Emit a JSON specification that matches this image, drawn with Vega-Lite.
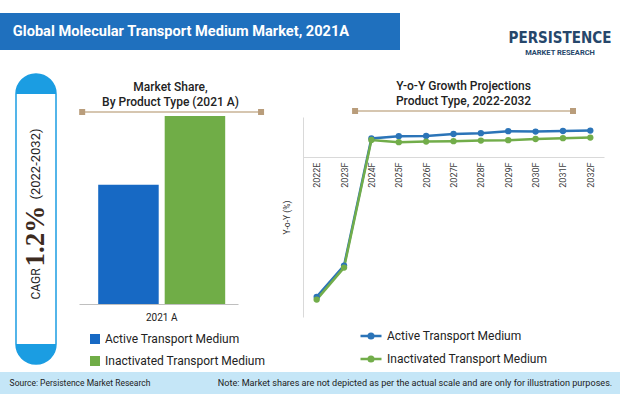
{
  "$schema": "https://vega.github.io/schema/vega-lite/v6.json",
  "padding": 0,
  "background": "white",
  "spacing": 0,
  "config": {
    "font": "Roboto",
    "view": {"stroke": null},
    "axis": {"labelFont": "Roboto", "titleFont": "Roboto"},
    "legend": {"labelFont": "Roboto", "labelLimit": 300}
  },
  "datasets": {
    "share": [
      {"year": "2021 A", "type": "Active Transport Medium", "share": 38.8},
      {"year": "2021 A", "type": "Inactivated Transport Medium", "share": 61.2}
    ],
    "yoy": [
      {"year": "2022E", "type": "Active Transport Medium", "growth": -6.99},
      {"year": "2023F", "type": "Active Transport Medium", "growth": -5.43},
      {"year": "2024F", "type": "Active Transport Medium", "growth": 0.93},
      {"year": "2025F", "type": "Active Transport Medium", "growth": 1.04},
      {"year": "2026F", "type": "Active Transport Medium", "growth": 1.05},
      {"year": "2027F", "type": "Active Transport Medium", "growth": 1.15},
      {"year": "2028F", "type": "Active Transport Medium", "growth": 1.19},
      {"year": "2029F", "type": "Active Transport Medium", "growth": 1.29},
      {"year": "2030F", "type": "Active Transport Medium", "growth": 1.27},
      {"year": "2031F", "type": "Active Transport Medium", "growth": 1.30},
      {"year": "2032F", "type": "Active Transport Medium", "growth": 1.32},
      {"year": "2022E", "type": "Inactivated Transport Medium", "growth": -7.13},
      {"year": "2023F", "type": "Inactivated Transport Medium", "growth": -5.53},
      {"year": "2024F", "type": "Inactivated Transport Medium", "growth": 0.85},
      {"year": "2025F", "type": "Inactivated Transport Medium", "growth": 0.74},
      {"year": "2026F", "type": "Inactivated Transport Medium", "growth": 0.77},
      {"year": "2027F", "type": "Inactivated Transport Medium", "growth": 0.79},
      {"year": "2028F", "type": "Inactivated Transport Medium", "growth": 0.82},
      {"year": "2029F", "type": "Inactivated Transport Medium", "growth": 0.84},
      {"year": "2030F", "type": "Inactivated Transport Medium", "growth": 0.90},
      {"year": "2031F", "type": "Inactivated Transport Medium", "growth": 0.94},
      {"year": "2032F", "type": "Inactivated Transport Medium", "growth": 0.97}
    ]
  },
  "resolve": {"scale": {"color": "independent"}, "legend": {"color": "independent"}},
  "vconcat": [
    {"width": 620, "height": 13, "data": {"values": []}, "mark": "point"},
    {
      "spacing": 0,
      "hconcat": [
        {
          "width": 362, "height": 37,
          "view": {"fill": "#1f70be", "stroke": null},
          "data": {"values": [{"label": "Global Molecular Transport Medium Market, 2021A"}]},
          "mark": {"type": "text", "color": "white", "fontWeight": "bold", "fontSize": 14.6, "font": "Roboto"},
          "encoding": {"text": {"field": "label"}}
        },
        {"width": 38, "height": 37, "view": {"fill": "#1f70be", "stroke": null}, "data": {"values": []}, "mark": "point"},
        {"width": 108, "height": 37, "data": {"values": []}, "mark": "point"},
        {
          "width": 100, "height": 45,
          "layer": [
            {
              "data": {"values": [{"t": "PERSISTENCE"}]},
              "mark": {"type": "text", "fontWeight": "bold", "fontSize": 15, "font": "Liberation Sans Narrow, DejaVu Sans Condensed, Roboto", "color": "#26476b"},
              "encoding": {
                "y": {"field": "t", "type": "nominal", "axis": null, "scale": {"type": "point", "domain": ["PERSISTENCE", "MARKET RESEARCH"], "padding": 1.375, "align": 0.818}},
                "text": {"field": "t"}
              }
            },
            {
              "data": {"values": [{"t": "MARKET RESEARCH"}]},
              "mark": {"type": "text", "fontWeight": "bold", "fontSize": 7.5, "font": "Roboto", "color": "#26476b"},
              "encoding": {
                "y": {"field": "t", "type": "nominal", "axis": null},
                "text": {"field": "t"}
              }
            }
          ]
        }
      ]
    },
    {"width": 620, "height": 15, "data": {"values": []}, "mark": "point"},
    {
      "spacing": 0,
      "resolve": {"scale": {"color": "independent"}, "legend": {"color": "independent"}},
      "hconcat": [
        {"width": 15, "height": 290, "data": {"values": []}, "mark": "point"},
        {
          "width": 40, "height": 290,
          "view": {
            "stroke": "#1b9de2", "strokeWidth": 1.5, "cornerRadius": 20,
            "fill": {
              "gradient": "linear", "x1": 0, "y1": 0, "x2": 0, "y2": 1,
              "stops": [
                {"offset": 0, "color": "#1b9de2"},
                {"offset": 0.069, "color": "#1b9de2"},
                {"offset": 0.0691, "color": "#ffffff"},
                {"offset": 0.931, "color": "#ffffff"},
                {"offset": 0.9311, "color": "#1b9de2"},
                {"offset": 1, "color": "#1b9de2"}
              ]
            }
          },
          "data": {"values": [{"part": "(2022-2032)"}, {"part": "1.2%"}, {"part": "CAGR"}]},
          "layer": [
            {
              "transform": [{"filter": "datum.part === '(2022-2032)'"}],
              "mark": {"type": "text", "angle": 270, "fontSize": 13, "color": "#222222", "dx": 55},
              "encoding": {"text": {"field": "part"}}
            },
            {
              "transform": [{"filter": "datum.part === '1.2%'"}],
              "mark": {"type": "text", "angle": 270, "fontSize": 27, "fontWeight": "bold", "font": "Liberation Serif", "color": "#3d2b1f", "dx": -17},
              "encoding": {"text": {"field": "part"}}
            },
            {
              "transform": [{"filter": "datum.part === 'CAGR'"}],
              "mark": {"type": "text", "angle": 270, "fontSize": 12, "color": "#222222", "dx": -65},
              "encoding": {"text": {"field": "part"}}
            }
          ]
        },
        {"width": 22, "height": 1, "data": {"values": []}, "mark": "point"},
        {
          "spacing": 0,
          "vconcat": [
            {"width": 159, "height": 7, "data": {"values": []}, "mark": "point"},
            {
              "width": 159, "height": 188,
              "title": {"text": ["Market Share,", "By Product Type (2021 A)"], "fontSize": 12, "fontWeight": 500, "color": "#222222", "lineHeight": 15, "offset": 0, "dx": 12, "frame": "group", "anchor": "middle"},
              "layer": [
                {
                  "data": {"name": "share"},
                  "mark": {"type": "bar"},
                  "encoding": {
                    "x": {"field": "year", "type": "nominal", "scale": {"paddingInner": 0, "paddingOuter": 0.126, "align": 0.6},
                      "axis": {"title": null, "labelAngle": 0, "ticks": false, "domainColor": "#bfbfbf", "labelFontSize": 10, "labelColor": "#222222", "labelPadding": 8}},
                    "xOffset": {"field": "type", "type": "nominal", "scale": {"paddingInner": 0.09, "paddingOuter": 0}},
                    "y": {"field": "share", "type": "quantitative", "scale": {"domain": [0, 61.2], "nice": false}, "axis": null},
                    "color": {"field": "type", "type": "nominal",
                      "scale": {"domain": ["Active Transport Medium", "Inactivated Transport Medium"], "range": ["#1769c4", "#70ad47"]},
                      "legend": {"orient": "none", "legendX": 10, "legendY": 259, "direction": "vertical", "title": null, "symbolType": "square", "symbolSize": 100, "symbolStrokeWidth": 0, "labelFontSize": 12, "labelColor": "#222222", "rowPadding": 10, "labelOffset": 4}}
                  }
                },
                {
                  "data": {"values": [{}]},
                  "mark": {"type": "rule", "color": "#c9b396", "strokeWidth": 1.5},
                  "encoding": {
                    "x": {"datum": 0.02, "type": "quantitative", "scale": {"domain": [0, 1], "nice": false, "zero": false}, "axis": null},
                    "x2": {"datum": 1.145},
                    "y": {"datum": 62.5, "type": "quantitative"}
                  }
                },
                {
                  "data": {"values": [{}]},
                  "mark": {"type": "point", "shape": "square", "filled": true, "size": 36, "color": "#b99d7b", "opacity": 1},
                  "encoding": {
                    "x": {"datum": 0.02, "type": "quantitative", "scale": {"domain": [0, 1], "nice": false, "zero": false}, "axis": null},
                    "y": {"datum": 62.5, "type": "quantitative"}
                  }
                },
                {
                  "data": {"values": [{}]},
                  "mark": {"type": "point", "shape": "square", "filled": true, "size": 36, "color": "#b99d7b", "opacity": 1},
                  "encoding": {
                    "x": {"datum": 1.145, "type": "quantitative", "scale": {"domain": [0, 1], "nice": false, "zero": false}, "axis": null},
                    "y": {"datum": 62.5, "type": "quantitative"}
                  }
                }
              ],
              "resolve": {"scale": {"x": "independent"}}
            }
          ]
        },
        {"width": 16, "height": 1, "data": {"values": []}, "mark": "point"},
        {
          "spacing": 0,
          "vconcat": [
            {"width": 301, "height": 5, "data": {"values": []}, "mark": "point"},
            {
              "width": 301, "height": 200,
              "title": {"text": ["Y-o-Y Growth Projections", "Product Type, 2022-2032"], "fontSize": 12, "fontWeight": 500, "color": "#222222", "lineHeight": 15, "offset": 0, "dx": 10, "frame": "group", "anchor": "middle"},
              "layer": [
                {
                  "data": {"name": "yoy"},
                  "mark": {"type": "line", "strokeWidth": 2.5, "point": {"filled": true, "size": 40}},
                  "encoding": {
                    "x": {"field": "year", "type": "ordinal", "scale": {"type": "point", "padding": 0.5},
                      "axis": {"orient": "bottom", "offset": -160, "labelAngle": -90, "ticks": false, "domainColor": "#d9d9d9", "title": null, "labelFontSize": 9, "labelColor": "#404040", "labelPadding": 5}},
                    "y": {"field": "growth", "type": "quantitative", "scale": {"domain": [-8, 2], "nice": false},
                      "axis": {"labels": false, "ticks": false, "grid": false, "domainColor": "#d9d9d9", "title": "Y-o-Y (%)", "titleFontSize": 8.5, "titleFontWeight": "normal", "titlePadding": 12, "titleColor": "#333333"}},
                    "color": {"field": "type", "type": "nominal",
                      "scale": {"domain": ["Active Transport Medium", "Inactivated Transport Medium"], "range": ["#2b74b8", "#72ad4a"]},
                      "legend": {"orient": "none", "legendX": 56, "legendY": 250, "direction": "vertical", "title": null,
                        "symbolType": "M-1,0L1,0M-0.22,0A0.22,0.22,0,1,1,0.22,0A0.22,0.22,0,1,1,-0.22,0Z",
                        "symbolSize": 441, "symbolStrokeWidth": 2.5, "labelFontSize": 12, "labelColor": "#222222", "rowPadding": 3, "labelOffset": 4}}
                  }
                },
                {
                  "data": {"values": [{}]},
                  "mark": {"type": "rule", "color": "#c9b396", "strokeWidth": 1.5},
                  "encoding": {
                    "x": {"datum": 0.173, "type": "quantitative", "scale": {"domain": [0, 1], "nice": false, "zero": false}, "axis": null},
                    "x2": {"datum": 0.897},
                    "y": {"datum": 2.3, "type": "quantitative"}
                  }
                },
                {
                  "data": {"values": [{}]},
                  "mark": {"type": "point", "shape": "square", "filled": true, "size": 36, "color": "#b99d7b", "opacity": 1},
                  "encoding": {
                    "x": {"datum": 0.173, "type": "quantitative", "scale": {"domain": [0, 1], "nice": false, "zero": false}, "axis": null},
                    "y": {"datum": 2.3, "type": "quantitative"}
                  }
                },
                {
                  "data": {"values": [{}]},
                  "mark": {"type": "point", "shape": "square", "filled": true, "size": 36, "color": "#b99d7b", "opacity": 1},
                  "encoding": {
                    "x": {"datum": 0.897, "type": "quantitative", "scale": {"domain": [0, 1], "nice": false, "zero": false}, "axis": null},
                    "y": {"datum": 2.3, "type": "quantitative"}
                  }
                }
              ],
              "resolve": {"scale": {"x": "independent"}}
            }
          ]
        }
      ]
    },
    {"width": 620, "height": 5, "data": {"values": []}, "mark": "point"},
    {
      "spacing": 0,
      "hconcat": [
        {
          "width": 160, "height": 22,
          "view": {"fill": "#c5e6f7", "stroke": null},
          "data": {"values": [{"label": "Source: Persistence Market Research"}]},
          "mark": {"type": "text", "fontSize": 8.5, "color": "#222222"},
          "encoding": {"text": {"field": "label"}}
        },
        {"width": 50, "height": 22, "view": {"fill": "#c5e6f7", "stroke": null}, "data": {"values": []}, "mark": "point"},
        {
          "width": 410, "height": 22,
          "view": {"fill": "#c5e6f7", "stroke": null},
          "data": {"values": [{"label": "Note: Market shares are not depicted as per the actual scale and are only for illustration purposes."}]},
          "mark": {"type": "text", "fontSize": 9.1, "color": "#222222"},
          "encoding": {"text": {"field": "label"}}
        }
      ]
    }
  ]
}
